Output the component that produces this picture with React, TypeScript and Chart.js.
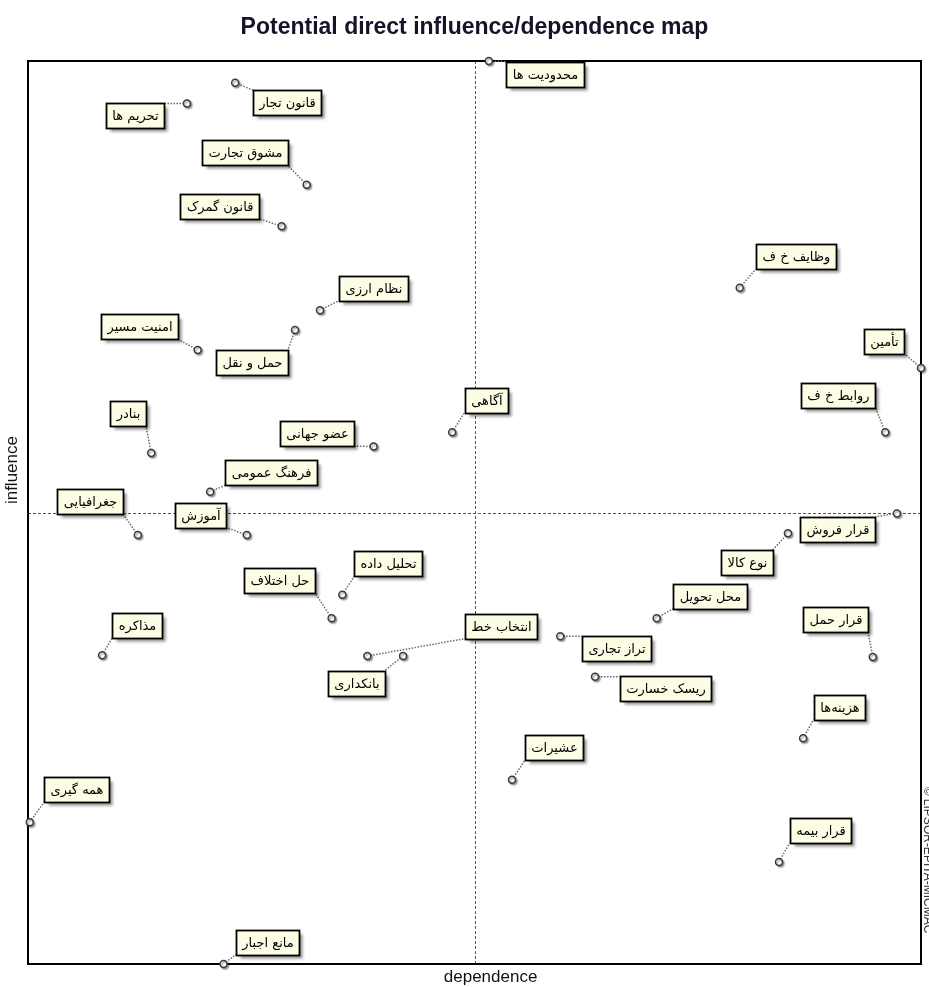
import React, { useEffect, useRef } from "react";
import { Chart, registerables } from "chart.js";

Chart.register(...registerables);

// ---- data (MICMAC potential direct influence / dependence) ----
const variables: string[] = [
  "محدودیت ها", "قانون تجار", "تحریم ها", "مشوق تجارت", "قانون گمرک",
  "نظام ارزی", "امنیت مسیر", "حمل و نقل", "بنادر", "آگاهی",
  "عضو جهانی", "فرهنگ عمومی", "جغرافیایی", "آموزش", "وظایف خ ف",
  "تأمین", "روابط خ ف", "قرار فروش", "نوع کالا", "محل تحویل",
  "قرار حمل", "تحلیل داده", "حل اختلاف", "مذاکره", "انتخاب خط",
  "بانکداری", "تراز تجاری", "ریسک خسارت", "هزینه‌ها", "عشیرات",
  "همه گیری", "قرار بیمه", "مانع اجبار",
];

const dependence: number[] = [
  51.6, 23.2, 17.8, 31.2, 28.4,
  32.7, 19.0, 29.9, 13.8, 47.5,
  38.7, 20.4, 12.3, 24.5, 79.7,
  100.0, 96.0, 97.3, 85.1, 70.4,
  94.6, 35.2, 34.0, 8.3, 38.0,
  42.0, 59.6, 63.5, 86.8, 54.2,
  0.2, 84.1, 21.9,
];

const influence: number[] = [
  100.0, 97.6, 95.3, 86.3, 81.7,
  72.4, 68.0, 70.2, 56.6, 58.9,
  57.3, 52.3, 47.5, 47.5, 74.9,
  66.0, 58.9, 49.9, 47.7, 38.3,
  34.0, 40.9, 38.3, 34.2, 34.1,
  34.1, 36.3, 31.8, 25.0, 20.4,
  15.7, 11.3, 0.0,
];

const xAxisMin = 0;
const xAxisMax = 100;
const yAxisMin = 0;
const yAxisMax = 100;
const xMid = 50;
const yMid = 50;

const chartTitle = "Potential direct influence/dependence map";
const xTitle = "dependence";
const yTitle = "influence";
const copyright = "© LIPSOR-EPITA-MICMAC";

// ---- label layout: offset (px) of each label box centre from its point ----
const labelOffsets: [number, number][] = [
  [56, 13], [52, 20], [-52, 12], [-62, -32], [-62, -20],
  [53, -22], [-58, -23], [-43, 32], [-23, -39], [34, -32],
  [-57, -13], [61, -19], [-48, -34], [-46, -20], [56, -31],
  [-37, -27], [-47, -37], [-59, 16], [-41, 29], [53, -22],
  [-37, -37], [46, -31], [-52, -38], [35, -30], [134, -30],
  [-47, 27], [56, 12], [70, 12], [36, -31], [42, -32],
  [47, -33], [41, -31], [44, -22],
];

const LABEL_FONT = '13px "DejaVu Sans", "Noto Sans", sans-serif';
const LABEL_H = 25;
const LABEL_PAD = 6;
const AXIS_FONT = '17px "Liberation Sans", Arial, sans-serif';

const micmacPlugin = {
  id: "micmacDecor",
  beforeDatasetsDraw(chart: any) {
    const { ctx, chartArea: a, scales } = chart;
    const xs = scales.x;
    const ys = scales.y;
    ctx.save();
    // dashed quadrant lines
    ctx.strokeStyle = "#555";
    ctx.lineWidth = 1;
    ctx.setLineDash([3, 2]);
    const mx = Math.round(xs.getPixelForValue(xMid)) + 0.5;
    const my = Math.round(ys.getPixelForValue(yMid)) + 0.5;
    ctx.beginPath();
    ctx.moveTo(mx, a.top);
    ctx.lineTo(mx, a.bottom);
    ctx.moveTo(a.left, my);
    ctx.lineTo(a.right, my);
    ctx.stroke();
    ctx.setLineDash([]);
    // frame
    ctx.strokeStyle = "#000";
    ctx.lineWidth = 2;
    ctx.strokeRect(a.left, a.top, a.right - a.left, a.bottom - a.top);
    // axis titles
    ctx.fillStyle = "#111";
    ctx.font = AXIS_FONT;
    ctx.textAlign = "center";
    ctx.textBaseline = "middle";
    ctx.fillText(xTitle, a.left + (a.right - a.left) * 0.518, a.bottom + 13);
    ctx.save();
    ctx.translate(12, a.top + (a.bottom - a.top) * 0.453);
    ctx.rotate(-Math.PI / 2);
    ctx.fillText(yTitle, 0, 0);
    ctx.restore();
    // leader lines
    ctx.font = LABEL_FONT;
    ctx.strokeStyle = "#6a6a6a";
    ctx.lineWidth = 1.5;
    ctx.setLineDash([1.5, 1.5]);
    variables.forEach((name, i) => {
      const px = xs.getPixelForValue(dependence[i]);
      const py = ys.getPixelForValue(influence[i]);
      const w = ctx.measureText(name).width + LABEL_PAD * 2;
      const cx = px + labelOffsets[i][0];
      const cy = py + labelOffsets[i][1];
      const L = cx - w / 2, R = cx + w / 2, T = cy - LABEL_H / 2, B = cy + LABEL_H / 2;
      const nx = Math.min(Math.max(px, L), R);
      const ny = Math.min(Math.max(py, T), B);
      ctx.beginPath();
      ctx.moveTo(px, py);
      ctx.lineTo(nx, ny);
      ctx.stroke();
    });
    ctx.restore();
  },
  beforeDatasetDraw(chart: any) {
    const ctx = chart.ctx;
    ctx.save();
    ctx.shadowColor = "rgba(0,0,0,0.35)";
    ctx.shadowOffsetX = 1.5;
    ctx.shadowOffsetY = 1.5;
    ctx.shadowBlur = 1.5;
  },
  afterDatasetDraw(chart: any) {
    chart.ctx.restore();
  },
  afterDatasetsDraw(chart: any) {
    const { ctx, scales } = chart;
    const xs = scales.x;
    const ys = scales.y;
    ctx.save();
    ctx.font = LABEL_FONT;
    ctx.textAlign = "center";
    ctx.textBaseline = "middle";
    variables.forEach((name, i) => {
      const px = xs.getPixelForValue(dependence[i]);
      const py = ys.getPixelForValue(influence[i]);
      const w = Math.round(ctx.measureText(name).width + LABEL_PAD * 2);
      const cx = px + labelOffsets[i][0];
      const cy = py + labelOffsets[i][1];
      const L = Math.round(cx - w / 2) + 0.5;
      const T = Math.round(cy - LABEL_H / 2) + 0.5;
      ctx.save();
      ctx.shadowColor = "rgba(0,0,0,0.45)";
      ctx.shadowOffsetX = 3;
      ctx.shadowOffsetY = 3;
      ctx.shadowBlur = 3;
      ctx.fillStyle = "#fdfde6";
      ctx.fillRect(L, T, w, LABEL_H);
      ctx.restore();
      ctx.strokeStyle = "#000";
      ctx.lineWidth = 1.8;
      ctx.strokeRect(L, T, w, LABEL_H);
      ctx.fillStyle = "#000";
      ctx.direction = "rtl";
      ctx.fillText(name, L + w / 2, T + LABEL_H / 2 + 1);
      ctx.direction = "ltr";
    });
    // copyright, vertical on the right edge
    ctx.save();
    ctx.translate(927, 860);
    ctx.rotate(Math.PI / 2);
    ctx.font = '12px "Liberation Sans", Arial, sans-serif';
    ctx.fillStyle = "#333";
    ctx.textAlign = "center";
    ctx.textBaseline = "middle";
    ctx.fillText(copyright, 0, 0);
    ctx.restore();
    ctx.restore();
  },
};

export default function App() {
  const canvasRef = useRef<HTMLCanvasElement | null>(null);

  useEffect(() => {
    const canvas = canvasRef.current;
    if (!canvas) return;
    const titleFont = { family: '"Liberation Sans", Arial, sans-serif', size: 23, weight: "bold" as const, lineHeight: 1.2 };
    const titleLH = titleFont.size * 1.2;
    const titleTop = 28 - titleLH / 2;
    const titleBottom = 61 - titleTop - titleLH;

    const chart = new Chart(canvas, {
      type: "scatter",
      data: {
        datasets: [
          {
            label: "variables",
            data: dependence.map((x, i) => ({ x, y: influence[i] })),
            pointRadius: 3.5,
            pointHoverRadius: 3.5,
            pointBackgroundColor: "#ffffff",
            pointBorderColor: "#3a3a3a",
            pointBorderWidth: 1.5,
            clip: false,
          } as any,
        ],
      },
      options: {
        animation: false,
        responsive: false,
        events: [],
        layout: { padding: { left: 28, right: 8, top: 0, bottom: 0 } },
        plugins: {
          legend: { display: false },
          tooltip: { enabled: false },
          title: {
            display: true,
            text: chartTitle,
            color: "#141428",
            font: titleFont,
            padding: { top: titleTop, bottom: titleBottom },
          },
        },
        scales: {
          x: {
            type: "linear",
            min: xAxisMin,
            max: xAxisMax,
            ticks: { display: false },
            grid: { display: false, drawTicks: false },
            border: { display: false },
            title: { display: false, text: xTitle },
            afterFit: (s: any) => {
              s.height = 23;
            },
          },
          y: {
            type: "linear",
            min: yAxisMin,
            max: yAxisMax,
            ticks: { display: false },
            grid: { display: false, drawTicks: false },
            border: { display: false },
            title: { display: false, text: yTitle },
            afterFit: (s: any) => {
              s.width = 0;
            },
          },
        },
      },
      plugins: [micmacPlugin],
    });
    return () => chart.destroy();
  }, []);

  return (
    <div style={{ position: "fixed", left: 0, top: 0, width: 929, height: 987, background: "#fff" }}>
      <canvas ref={canvasRef} width={929} height={987} style={{ display: "block" }} />
    </div>
  );
}
